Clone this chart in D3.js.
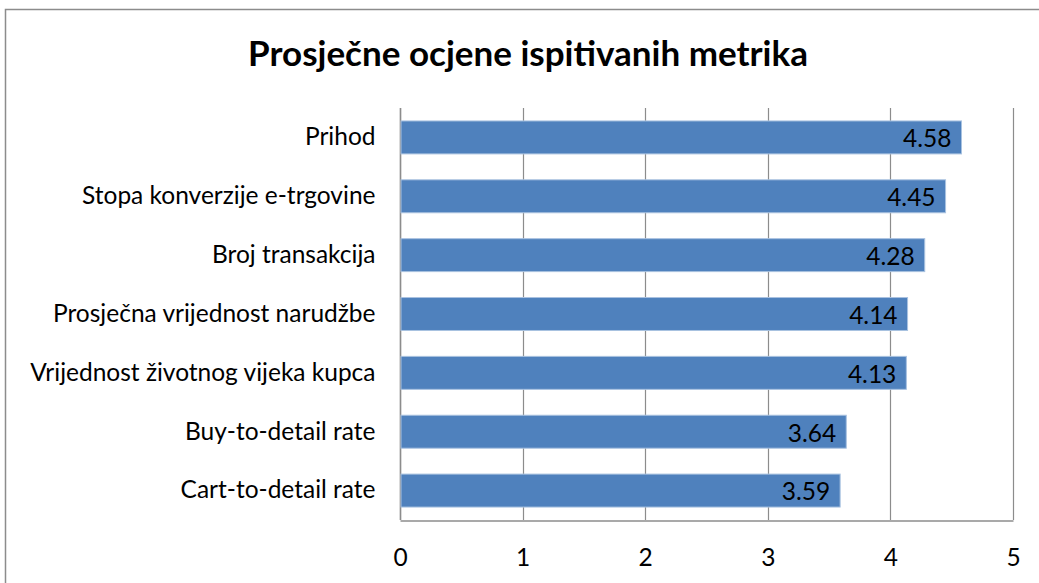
<!DOCTYPE html>
<html>
<head>
<meta charset="utf-8">
<script src="https://cdn.jsdelivr.net/npm/d3@7"></script>
<style>
  body { margin: 0; background: #fff; }
  svg text { font-family: Lato, "Open Sans", sans-serif; fill: #000; }
</style>
</head>
<body>
<div id="chart"></div>
<script>
  var categories = [
    "Prihod",
    "Stopa konverzije e-trgovine",
    "Broj transakcija",
    "Prosječna vrijednost narudžbe",
    "Vrijednost životnog vijeka kupca",
    "Buy-to-detail rate",
    "Cart-to-detail rate"
  ];
  var values = [4.58, 4.45, 4.28, 4.14, 4.13, 3.64, 3.59];
  var xTicks = [0, 1, 2, 3, 4, 5];
  var title = "Prosječne ocjene ispitivanih metrika";

  var W = 1039, H = 583;
  var plotLeft = 400, plotRight = 1013, plotTop = 108, plotBottom = 520;
  var fs = 24.5;

  var svg = d3.select("#chart").append("svg")
    .attr("width", W).attr("height", H);

  // outer chart border
  svg.append("rect")
    .attr("x", 5.5).attr("y", 9.5)
    .attr("width", 1100).attr("height", 700)
    .attr("fill", "none").attr("stroke", "#8c8c8c").attr("stroke-width", 1.5);

  svg.append("text")
    .attr("x", 528).attr("y", 66)
    .attr("text-anchor", "middle")
    .attr("font-size", 35).attr("font-weight", "bold")
    .text(title);

  var x = d3.scaleLinear().domain([0, 5]).range([plotLeft, plotRight]);
  var y = d3.scaleBand().domain(categories).range([plotTop, plotBottom]).paddingInner(0.44).paddingOuter(0.22);

  // gridlines
  svg.append("g").selectAll("line").data(xTicks).join("line")
    .attr("x1", d => Math.round(x(d)) + 0.5).attr("x2", d => Math.round(x(d)) + 0.5)
    .attr("y1", plotTop).attr("y2", plotBottom)
    .attr("stroke", "#8c8c8c").attr("stroke-width", 1.2);

  // bottom axis
  var xAxis = svg.append("g")
    .attr("transform", "translate(0," + (plotBottom + 0.5) + ")")
    .call(d3.axisBottom(x).tickValues(xTicks).tickFormat(d3.format("d")).tickSize(0).tickPadding(28));
  xAxis.select(".domain").attr("stroke", "#8c8c8c").attr("stroke-width", 1.5);
  xAxis.selectAll("text").attr("font-size", fs).attr("font-family", "Lato, sans-serif").attr("fill", "#000");

  // left axis
  var yAxis = svg.append("g")
    .attr("transform", "translate(" + (plotLeft + 0.5) + ",0)")
    .call(d3.axisLeft(y).tickSize(0).tickPadding(25));
  yAxis.select(".domain").remove();
  yAxis.selectAll("text").attr("font-size", fs).attr("font-family", "Lato, sans-serif").attr("fill", "#000");

  svg.append("line")
    .attr("x1", plotLeft + 0.5).attr("x2", plotLeft + 0.5)
    .attr("y1", plotTop).attr("y2", plotBottom)
    .attr("stroke", "#8c8c8c").attr("stroke-width", 1.5);

  // bars
  svg.append("g").selectAll("rect").data(values).join("rect")
    .attr("x", x(0) + 1)
    .attr("y", (d, i) => y(categories[i]))
    .attr("width", d => x(d) - x(0) - 1)
    .attr("height", y.bandwidth())
    .attr("fill", "#4f81bd")
    .attr("stroke", "#a9c2e0").attr("stroke-width", 1);

  // value labels
  svg.append("g").selectAll("text").data(values).join("text")
    .attr("x", d => x(d) - 10)
    .attr("y", (d, i) => y(categories[i]) + y.bandwidth() / 2 + 1)
    .attr("dy", "0.36em")
    .attr("text-anchor", "end")
    .attr("font-size", fs)
    .text(d => d.toFixed(2));
</script>
</body>
</html>
